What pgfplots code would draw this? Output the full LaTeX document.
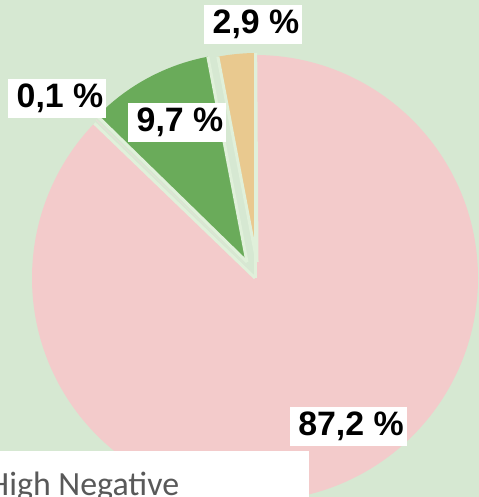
\documentclass[border=0pt]{standalone}
\usepackage{pgfplots}
\pgfplotsset{compat=1.18}
\usepackage{fontspec}
\setmainfont{Liberation Sans}
\newfontfamily\carlito{Carlito}
\definecolor{bg}{RGB}{214,232,210}
\definecolor{piepink}{RGB}{243,203,203}
\definecolor{piegreen}{RGB}{106,171,90}
\definecolor{pietan}{RGB}{233,201,143}
\definecolor{pietiny}{RGB}{228,225,214}
\definecolor{gapcol}{RGB}{224,240,218}
\definecolor{legtext}{RGB}{89,89,89}
% slice values (percent)
\def\vHigh{87.2}
\def\vLow{0.1}
\def\vMid{9.7}
\def\vPos{2.9}
\begin{document}
\begin{tikzpicture}
\pgfmathsetmacro\aA{90}
\pgfmathsetmacro\aB{\aA-3.6*\vHigh}
\pgfmathsetmacro\aC{\aB-3.6*\vLow}
\pgfmathsetmacro\aD{\aC-3.6*\vMid}
\pgfmathsetmacro\aE{\aD-3.6*\vPos}
\begin{axis}[scale only axis,
  width=479bp, height=497bp, xmin=0, xmax=479, ymin=0, ymax=497,
  hide axis, clip=true]
\fill[bg] (axis cs:0,0) rectangle (axis cs:479,497);
% slices
\fill[piepink] (axis cs:255,219) -- ++(\aA:223bp) arc[start angle=\aA, end angle=\aB, radius=223bp] -- cycle;
\fill[pietiny] (axis cs:251,227) -- ++(\aB:216bp) arc[start angle=\aB, end angle=\aC, radius=216bp] -- cycle;
\fill[piegreen] (axis cs:247,235) -- ++(\aC:209bp) arc[start angle=\aC, end angle=\aD, radius=209bp] -- cycle;
\fill[pietan] (axis cs:257,235) -- ++(\aD:209bp) arc[start angle=\aD, end angle=\aE, radius=209bp] -- cycle;
% slice separators
\draw[gapcol, line width=3bp] (axis cs:255,219) -- ++(\aA:223bp);
\draw[gapcol, line width=3bp] (axis cs:255,219) -- ++(\aB:223bp);
\draw[gapcol, line width=3bp] (axis cs:247,235) -- ++(\aC:209bp);
\draw[gapcol, line width=3bp] (axis cs:247,235) -- ++(\aD:209bp);
\draw[gapcol, line width=3bp] (axis cs:257,235) -- ++(\aD:209bp);
\draw[gapcol, line width=3bp] (axis cs:257,235) -- ++(\aE:209bp);
% data labels
\node[fill=white, minimum width=98bp, minimum height=39bp, inner sep=0pt, font=\bfseries\fontsize{34}{34}\selectfont] at (axis cs:253,472.5) {\hspace*{6bp}2,9 \%};
\node[fill=white, minimum width=98bp, minimum height=39bp, inner sep=0pt, font=\bfseries\fontsize{34}{34}\selectfont] at (axis cs:57,398.5) {\hspace*{6bp}0,1 \%};
\node[fill=white, minimum width=98bp, minimum height=39bp, inner sep=0pt, font=\bfseries\fontsize{34}{34}\selectfont] at (axis cs:177,374.5) {\hspace*{6bp}9,7 \%};
\node[fill=white, minimum width=117bp, minimum height=39bp, inner sep=0pt, font=\bfseries\fontsize{34}{34}\selectfont] at (axis cs:348.5,70.5) {\hspace*{5bp}87,2 \%};
% legend fragment
\fill[white] (axis cs:0,0) rectangle (axis cs:309,46);
\node[anchor=base west, inner sep=0pt, text=legtext, font=\carlito\fontsize{34}{34}\selectfont] at (axis cs:-12,2) {High Negative};
\end{axis}
\end{tikzpicture}
\end{document}
